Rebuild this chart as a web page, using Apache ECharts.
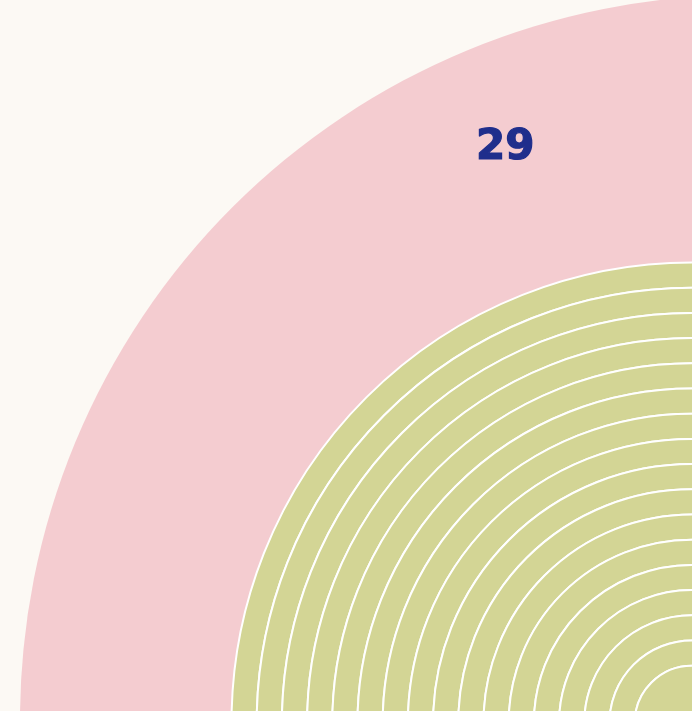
<!DOCTYPE html>
<html>
<head>
<meta charset="utf-8">
<style>
  html, body { margin: 0; padding: 0; background: #fcf9f4; }
  #chart { width: 692px; height: 711px; }
</style>
<script src="https://cdn.jsdelivr.net/npm/echarts@6/dist/echarts.min.js"></script>
</head>
<body>
<div id="chart"></div>
<script>
// values
var bigValue = [29];
var ringNames = ['r1', 'r2', 'r3', 'r4', 'r5', 'r6', 'r7', 'r8', 'r9',
                 'r10', 'r11', 'r12', 'r13', 'r14', 'r15', 'r16', 'r17'];
var ringValues = [1, 1, 1, 1, 1, 1, 1, 1, 1, 1, 1, 1, 1, 1, 1, 1, 1];

var pink = '#f4ccd0';
var green = '#d3d595';
var ringOuter = 460.5;
var ringStep = 25.2;

var myChart = echarts.init(document.getElementById('chart'));

var series = [
  {
    name: 'big',
    type: 'pie',
    silent: true,
    center: [745, 720],
    radius: [0, 725],
    label: { show: false },
    itemStyle: { color: pink },
    data: [{ name: String(bigValue[0]), value: bigValue[0] }]
  }
];

ringValues.forEach(function (v, i) {
  var rOut = ringOuter - ringStep * i;
  var rIn = i === ringValues.length - 1 ? 0 : rOut - ringStep;
  series.push({
    name: ringNames[i],
    type: 'pie',
    silent: true,
    center: [692, 723],
    radius: [rIn, rOut],
    label: { show: false },
    itemStyle: { color: green, borderColor: '#ffffff', borderWidth: 2 },
    data: [{ name: ringNames[i], value: v }]
  });
});

var option = {
  backgroundColor: '#fcf9f4',
  animation: false,
  title: {
    text: String(bigValue[0]),
    left: 471,
    top: 122,
    textStyle: {
      fontFamily: 'DejaVu Sans',
      fontWeight: 'bold',
      fontSize: 42,
      color: '#1f2e8c',
      textBorderColor: '#1f2e8c',
      textBorderWidth: 1.2
    }
  },
  series: series
};

myChart.setOption(option);
</script>
</body>
</html>
